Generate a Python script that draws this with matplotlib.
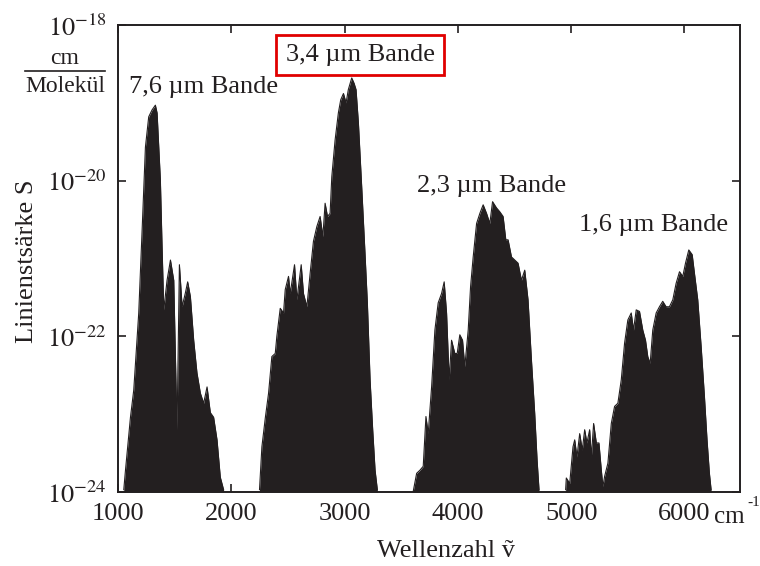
import numpy as np
import matplotlib.pyplot as plt
from matplotlib.lines import Line2D

plt.rcParams['font.family'] = ['Liberation Serif', 'DejaVu Serif']
plt.rcParams['mathtext.fontset'] = 'stix'

# line strength envelope of CH4, wavenumber in cm^-1 and log10(S)
band76_nu = [1051, 1066, 1110, 1139, 1183, 1213, 1242, 1271, 1301, 1330, 1345,
             1374, 1389, 1404, 1433, 1463, 1492, 1521, 1542, 1566, 1595, 1615,
             1639, 1668, 1697, 1727, 1756, 1786, 1815, 1844, 1874, 1903, 1932]
band76_log = [-23.97, -23.72, -23.04, -22.69, -21.70, -20.63, -19.57, -19.18,
              -19.09, -19.03, -19.13, -19.99, -20.85, -21.66, -21.28, -21.02,
              -21.28, -23.20, -21.08, -21.62, -21.44, -21.30, -21.49, -22.05,
              -22.47, -22.73, -22.86, -22.65, -22.98, -23.04, -23.33, -23.81,
              -23.97]

band34_nu = [2249, 2270, 2300, 2329, 2358, 2388, 2402, 2432, 2461, 2476, 2505,
             2520, 2558, 2579, 2617, 2637, 2667, 2696, 2725, 2755, 2784, 2808,
             2828, 2849, 2872, 2887, 2916, 2945, 2966, 2990, 3013, 3033, 3063,
             3084, 3101, 3122, 3151, 3180, 3201, 3225, 3248, 3269, 3289]
band34_log = [-23.97, -23.42, -23.05, -22.73, -22.26, -22.22, -22.00, -21.64,
              -21.70, -21.40, -21.23, -21.45, -21.08, -21.53, -21.08, -21.45,
              -21.62, -21.19, -20.78, -20.59, -20.46, -20.72, -20.29, -20.46,
              -20.42, -19.95, -19.48, -19.13, -18.96, -18.88, -19.00, -18.83,
              -18.68, -18.75, -18.83, -19.26, -20.08, -20.93, -21.57, -22.56,
              -23.20, -23.72, -23.97]

band23_nu = [3606, 3636, 3665, 3694, 3718, 3738, 3768, 3797, 3826, 3856, 3879,
             3900, 3923, 3944, 3973, 3994, 4017, 4041, 4061, 4091, 4112, 4135,
             4165, 4194, 4223, 4253, 4282, 4306, 4341, 4370, 4399, 4423, 4443,
             4473, 4502, 4531, 4561, 4590, 4619, 4649, 4678, 4699, 4716]
band23_log = [-23.99, -23.76, -23.72, -23.67, -23.03, -23.25, -22.65, -21.92,
              -21.57, -21.45, -21.30, -21.70, -22.56, -22.05, -22.22, -22.22,
              -21.98, -22.05, -22.39, -21.92, -21.36, -20.98, -20.55, -20.42,
              -20.31, -20.42, -20.55, -20.27, -20.35, -20.40, -20.46, -20.76,
              -20.76, -20.98, -21.02, -21.06, -21.28, -21.15, -21.53, -22.30,
              -22.99, -23.59, -23.97]

band16_nu = [4951, 4957, 4987, 5016, 5031, 5051, 5075, 5098, 5119, 5139, 5163,
             5178, 5198, 5222, 5245, 5266, 5280, 5295, 5324, 5354, 5383, 5412,
             5442, 5471, 5500, 5530, 5550, 5574, 5603, 5632, 5656, 5676, 5697,
             5720, 5750, 5779, 5808, 5838, 5867, 5897, 5926, 5956, 5985, 6009,
             6038, 6068, 6088, 6117, 6147, 6176, 6199, 6220, 6235]
band16_log = [-23.97, -23.82, -23.89, -23.42, -23.33, -23.55, -23.25, -23.46,
              -23.20, -23.37, -23.20, -23.55, -23.12, -23.37, -23.37, -23.72,
              -23.93, -23.80, -23.63, -23.12, -22.90, -22.86, -22.56, -22.09,
              -21.79, -21.70, -21.92, -21.66, -21.68, -21.92, -22.05, -22.26,
              -22.35, -21.92, -21.70, -21.62, -21.55, -21.62, -21.62, -21.53,
              -21.32, -21.17, -21.23, -21.06, -20.89, -20.95, -21.19, -21.53,
              -22.13, -22.77, -23.33, -23.76, -23.97]

bands = [(band76_nu, band76_log), (band34_nu, band34_log),
         (band23_nu, band23_log), (band16_nu, band16_log)]
band_labels = ['7,6 µm Bande', '3,4 µm Bande', '2,3 µm Bande', '1,6 µm Bande']

ink = '#231f20'
fig = plt.figure(figsize=(7.6, 5.66), dpi=100)
ax = fig.add_axes([118/760, 1 - 492/566, 622/760, 467/566])

for nu, logs in bands:
    s = 10.0 ** np.array(logs)
    ax.fill_between(nu, 1e-24, s, color=ink, lw=0)
    ax.plot(nu, s, color=ink, lw=0.8)

ax.set_yscale('log')
ax.set_xlim(1000, 6490)
ax.set_ylim(1e-24, 1e-18)
ax.set_xticks([1000, 2000, 3000, 4000, 5000, 6000])
ax.set_yticks([1e-24, 1e-22, 1e-20, 1e-18])
ax.set_yticklabels([r'$10^{-24}$', r'$10^{-22}$', r'$10^{-20}$', r'$10^{-18}$'])
ax.minorticks_off()
ax.tick_params(direction='in', top=True, right=True, length=6, width=1.2,
               labelsize=19, colors=ink, pad=8)
for sp in ax.spines.values():
    sp.set_linewidth(1.4)
    sp.set_color(ink)

# axis titles
fig.text(446/760, 1 - 551/566, 'Wellenzahl ṽ', ha='center', va='center',
         fontsize=19, color=ink)
fig.text(27/760, 1 - 261/566, 'Linienstsärke S', rotation=90, ha='center', va='center',
         fontsize=19, color=ink)
# unit after the last x tick: "cm" plus a small raised "-1"
fig.text(714/760, 1 - 517/566, 'cm', ha='left', va='center', fontsize=18, color=ink)
fig.text(747/760, 1 - 503/566, '-1', ha='left', va='center', fontsize=11, color=ink)

# unit fraction
fig.text(65/760, 1 - 58/566, 'cm', ha='center', va='center', fontsize=17, color=ink)
fig.add_artist(Line2D([25/760, 105/760], [1 - 71/566, 1 - 71/566], color=ink, lw=1.2))
fig.text(65/760, 1 - 86/566, 'Molekül', ha='center', va='center', fontsize=17, color=ink)

# band labels
fig.text(204/760, 1 - 87/566, band_labels[0], ha='center', va='center', fontsize=19, color=ink)
fig.text(360/760, 1 - 55/566, band_labels[1], ha='center', va='center', fontsize=19, color=ink,
         bbox=dict(boxstyle='square,pad=0.35', fc='white', ec='#e00000', lw=2))
fig.text(492/760, 1 - 186/566, band_labels[2], ha='center', va='center', fontsize=19, color=ink)
fig.text(654/760, 1 - 225/566, band_labels[3], ha='center', va='center', fontsize=19, color=ink)

fig.savefig('out.png', dpi=100)
